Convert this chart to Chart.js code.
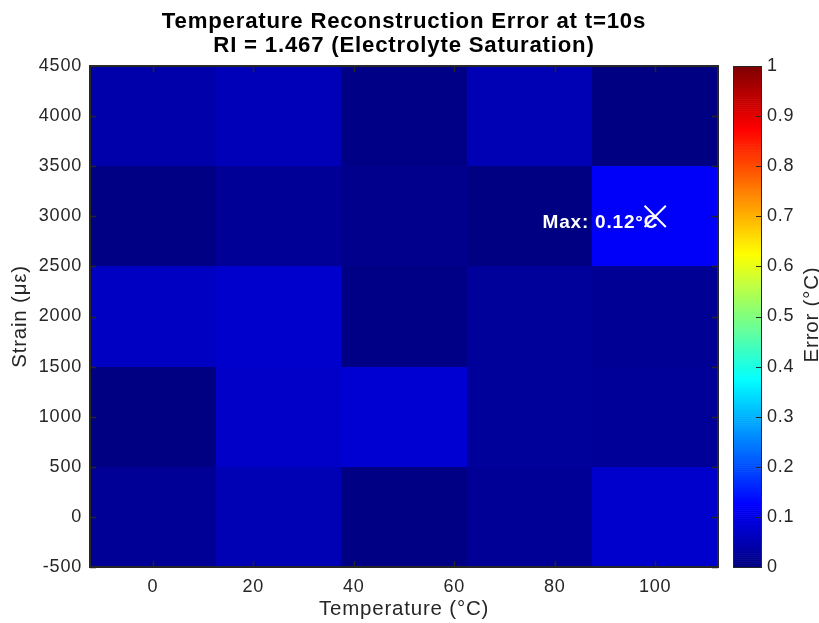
<!DOCTYPE html>
<html>
<head>
<meta charset="utf-8">
<title>Temperature Reconstruction Error</title>
<script src="https://cdn.jsdelivr.net/npm/chart.js@4.4.1/dist/chart.umd.min.js"></script>
<style>
  html, body { margin: 0; padding: 0; background: #ffffff; }
  #wrap { position: relative; width: 819px; height: 623px; }
</style>
</head>
<body>
<div id="wrap"><canvas id="heat" width="819" height="623"></canvas></div>
<script>
// Grid of operating points
const temperatureC = [0, 25, 50, 75, 100];
const strainUe = [0, 1000, 2000, 3000, 4000];

// Reconstruction error (°C) per strain level, columns follow temperatureC
const errStrain0    = [0.022, 0.051, 0.004, 0.022, 0.076];
const errStrain1000 = [0.002, 0.071, 0.081, 0.027, 0.024];
const errStrain2000 = [0.066, 0.076, 0.007, 0.027, 0.020];
const errStrain3000 = [0.004, 0.022, 0.012, 0.002, 0.120];
const errStrain4000 = [0.042, 0.056, 0.007, 0.051, 0.003];
const errorRows = [errStrain0, errStrain1000, errStrain2000, errStrain3000, errStrain4000];

// Tick labels
const temperatureTicks = [0, 20, 40, 60, 80, 100];
const strainTicks = [-500, 0, 500, 1000, 1500, 2000, 2500, 3000, 3500, 4000, 4500];
const errorTicks = [0, 0.1, 0.2, 0.3, 0.4, 0.5, 0.6, 0.7, 0.8, 0.9, 1];

const titleLines = ['Temperature Reconstruction Error at t=10s', 'RI = 1.467 (Electrolyte Saturation)'];

const FONT = '"Liberation Sans", Arial, Helvetica, sans-serif';
const INK = '#262626';
const SPACING = '0.8px';

// jet colormap, v in [0, 1]
function jet(v) {
  const c = t => Math.round(255 * Math.max(0, Math.min(1, t)));
  const r = c(1.5 - Math.abs(4 * v - 3));
  const g = c(1.5 - Math.abs(4 * v - 2));
  const b = c(1.5 - Math.abs(4 * v - 1));
  return `rgb(${r},${g},${b})`;
}

// locate the largest error
let maxVal = -Infinity, maxT = 0, maxS = 0;
errorRows.forEach((row, i) => row.forEach((v, j) => {
  if (v > maxVal) { maxVal = v; maxT = temperatureC[j]; maxS = strainUe[i]; }
}));

const halfT = (temperatureC[1] - temperatureC[0]) / 2;
const halfS = (strainUe[1] - strainUe[0]) / 2;

// slightly open letter spacing for every label
const textSpacing = {
  id: 'textSpacing',
  beforeDraw(chart) { chart.ctx.letterSpacing = SPACING; }
};

// draws the coloured cells below the datasets
const heatCells = {
  id: 'heatCells',
  beforeDatasetsDraw(chart) {
    const { ctx, scales: { x, y } } = chart;
    ctx.save();
    errorRows.forEach((row, i) => row.forEach((v, j) => {
      const x0 = Math.round(x.getPixelForValue(temperatureC[j] - halfT));
      const x1 = Math.round(x.getPixelForValue(temperatureC[j] + halfT));
      const y0 = Math.round(y.getPixelForValue(strainUe[i] + halfS));
      const y1 = Math.round(y.getPixelForValue(strainUe[i] - halfS));
      ctx.fillStyle = jet(v);
      ctx.fillRect(x0, y0, x1 - x0, y1 - y0);
    }));
    ctx.restore();
  }
};

// axes box, inward tick marks, max label and the colour bar
const frameAndBar = {
  id: 'frameAndBar',
  afterDatasetsDraw(chart) {
    const { ctx, chartArea: a, scales: { x, y, c } } = chart;
    ctx.save();

    // max label
    const px = x.getPixelForValue(maxT), py = y.getPixelForValue(maxS);
    ctx.fillStyle = '#ffffff';
    ctx.font = `bold 19px ${FONT}`;
    ctx.textAlign = 'right';
    ctx.textBaseline = 'middle';
    ctx.fillText(`Max: ${maxVal.toFixed(2)}°C`, px + 3, py + 6);

    // inward ticks on all four sides
    ctx.strokeStyle = INK;
    ctx.lineWidth = 1.5;
    const tl = 6;
    ctx.beginPath();
    temperatureTicks.forEach(t => {
      const xp = Math.round(x.getPixelForValue(t)) + 0.5;
      ctx.moveTo(xp, a.bottom); ctx.lineTo(xp, a.bottom - tl);
      ctx.moveTo(xp, a.top); ctx.lineTo(xp, a.top + tl);
    });
    strainTicks.forEach(s => {
      const yp = Math.round(y.getPixelForValue(s)) + 0.5;
      ctx.moveTo(a.left, yp); ctx.lineTo(a.left + tl, yp);
      ctx.moveTo(a.right, yp); ctx.lineTo(a.right - tl, yp);
    });
    ctx.stroke();

    // box
    ctx.lineWidth = 2;
    ctx.strokeRect(a.left, a.top, a.right - a.left, a.bottom - a.top);

    // colour bar
    const bx0 = a.right + 15, bx1 = a.right + 43;
    const steps = 256;
    for (let k = 0; k < steps; k++) {
      const v0 = k / steps, v1 = (k + 1) / steps;
      const yt = c.getPixelForValue(v1), yb = c.getPixelForValue(v0);
      ctx.fillStyle = jet((v0 + v1) / 2);
      ctx.fillRect(bx0, yt, bx1 - bx0, yb - yt + 0.6);
    }
    ctx.lineWidth = 1;
    ctx.beginPath();
    errorTicks.forEach(v => {
      const yp = Math.round(c.getPixelForValue(v)) + 0.5;
      ctx.moveTo(bx1, yp); ctx.lineTo(bx1 - 5, yp);
    });
    ctx.stroke();
    ctx.strokeRect(bx0 + 0.5, Math.round(c.top) + 0.5, bx1 - bx0, Math.round(c.bottom - c.top));

    // colour bar label
    ctx.fillStyle = INK;
    ctx.font = `20.5px ${FONT}`;
    ctx.textAlign = 'center';
    ctx.textBaseline = 'middle';
    ctx.translate(812, (c.top + c.bottom) / 2 - 2);
    ctx.rotate(-Math.PI / 2);
    ctx.fillText('Error (°C)', 0, 0);
    ctx.restore();
  }
};

const cellPoints = [];
errorRows.forEach((row, i) => row.forEach((v, j) => cellPoints.push({ x: temperatureC[j], y: strainUe[i], v })));

new Chart(document.getElementById('heat'), {
  type: 'scatter',
  data: {
    datasets: [
      { label: 'Error', data: cellPoints, pointRadius: 0, pointHoverRadius: 0 },
      {
        label: 'Max',
        data: [{ x: maxT, y: maxS }],
        pointStyle: 'crossRot',
        pointRadius: 15,
        pointHoverRadius: 15,
        borderColor: '#ffffff',
        backgroundColor: '#ffffff',
        borderWidth: 2
      }
    ]
  },
  options: {
    responsive: false,
    maintainAspectRatio: false,
    animation: false,
    events: [],
    layout: { padding: 0, autoPadding: false },
    plugins: {
      legend: { display: false },
      tooltip: { enabled: false },
      title: {
        display: true,
        fullSize: false,
        text: titleLines,
        color: '#000000',
        font: { family: FONT, size: 22.2, weight: 'bold', lineHeight: 1.12 },
        padding: { top: 9, bottom: 7.3 }
      }
    },
    scales: {
      x: {
        type: 'linear',
        min: temperatureC[0] - halfT,
        max: temperatureC[temperatureC.length - 1] + halfT,
        afterBuildTicks: s => { s.ticks = temperatureTicks.map(value => ({ value })); },
        afterFit: s => { s.height = 56; },
        grid: { display: false, drawTicks: false },
        border: { display: false },
        ticks: { color: INK, font: { family: FONT, size: 18 }, padding: 9, maxRotation: 0, callback: v => String(v) },
        title: { display: true, text: 'Temperature (°C)', color: INK, font: { family: FONT, size: 20.5 }, padding: { top: 0, bottom: 1.2 } }
      },
      y: {
        type: 'linear',
        min: strainUe[0] - halfS,
        max: strainUe[strainUe.length - 1] + halfS,
        afterBuildTicks: s => { s.ticks = strainTicks.map(value => ({ value })); },
        afterFit: s => { s.width = 90; },
        grid: { display: false, drawTicks: false },
        border: { display: false },
        ticks: { color: INK, font: { family: FONT, size: 18 }, padding: 8, callback: v => String(v) },
        title: { display: true, text: 'Strain (με)', color: INK, font: { family: FONT, size: 20.5 }, padding: { top: 8, bottom: 0 } }
      },
      c: {
        type: 'linear',
        position: 'right',
        min: 0,
        max: 1,
        afterBuildTicks: s => { s.ticks = errorTicks.map(value => ({ value })); },
        afterFit: s => { s.width = 101; s.paddingTop = 0; s.paddingBottom = 0; },
        grid: { display: false, drawTicks: false },
        border: { display: false },
        ticks: { color: INK, font: { family: FONT, size: 18 }, padding: 49, callback: v => String(v) }
      }
    }
  },
  plugins: [textSpacing, heatCells, frameAndBar]
});
</script>
</body>
</html>
